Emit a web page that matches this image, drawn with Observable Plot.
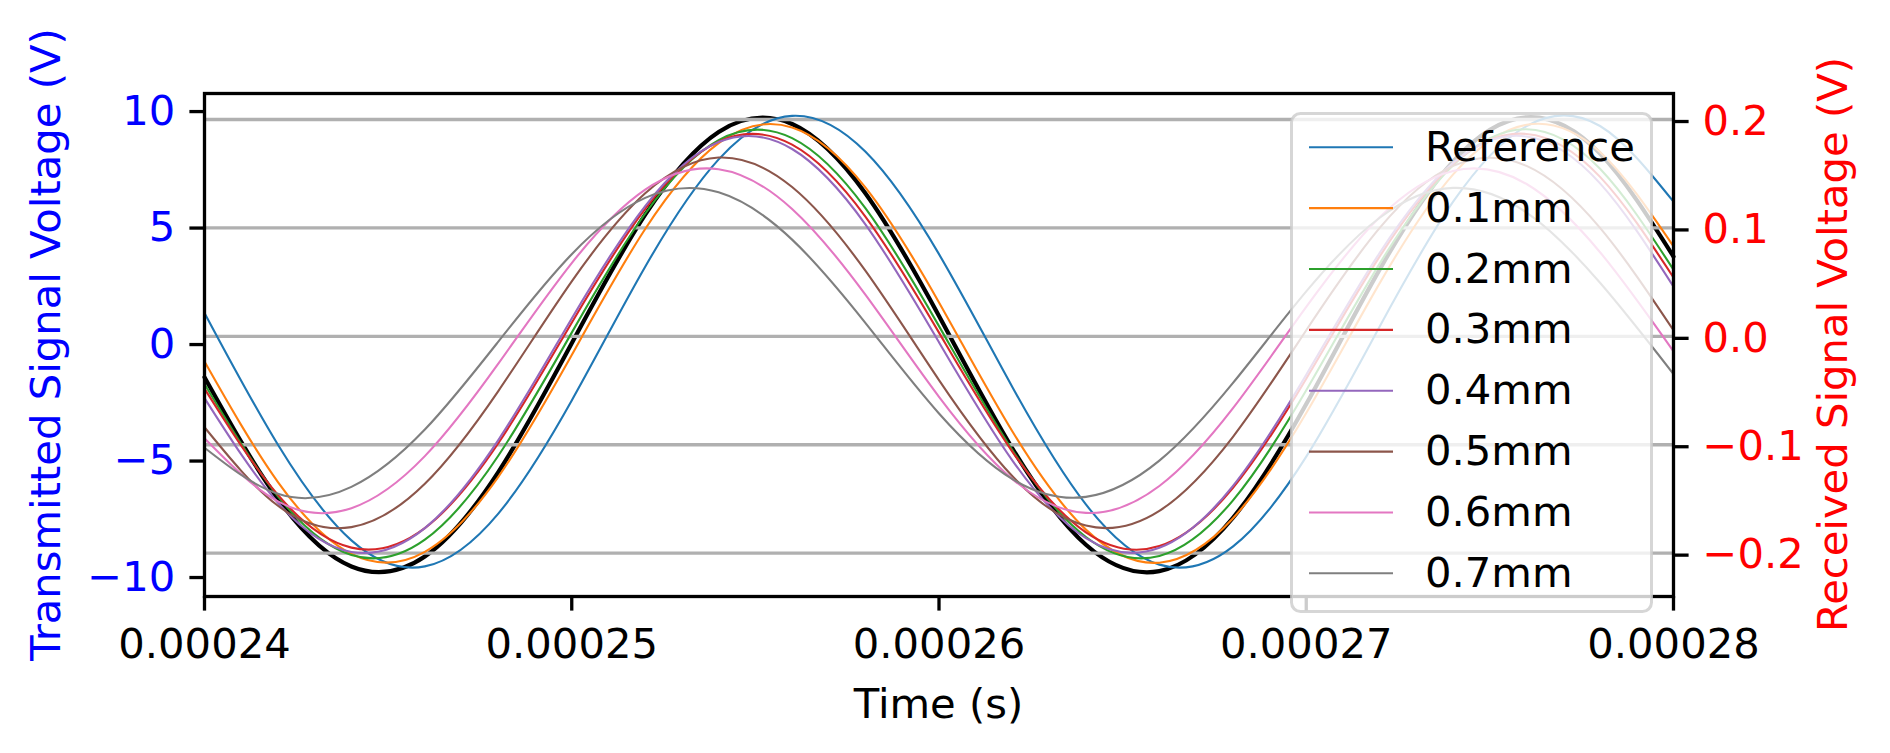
<!DOCTYPE html>
<html>
<head>
<meta charset="utf-8">
<script src="https://cdn.jsdelivr.net/npm/d3@7"></script>
<script src="https://cdn.jsdelivr.net/npm/@observablehq/plot@0.6"></script>
<style>
  html, body { margin: 0; padding: 0; background: #ffffff; }
  #chart { position: relative; width: 1890px; height: 753px; font-family: "DejaVu Sans", sans-serif; }
  #chart svg { position: absolute; left: 0; top: 0; max-width: none; }
</style>
</head>
<body>
<div id="chart"></div>
<script>
// ---------- data ----------
const time = [0.000240, 0.000242, 0.000244, 0.000246, 0.000248, 0.000250, 0.000252,
              0.000254, 0.000256, 0.000258, 0.000260, 0.000262, 0.000264, 0.000266,
              0.000268, 0.000270, 0.000272, 0.000274, 0.000276, 0.000278, 0.000280];

// transmitted signal (left axis, V)
const transmitted = [-1.49, -6.71, -9.61, -9.18, -5.56, -0.03, 5.49, 9.04, 9.38, 6.40, 1.14,
                     -4.55, -8.68, -9.81, -7.53, -2.64, 3.14, 7.78, 9.67, 8.11, 3.69];

// received signals (right axis, V)
const reference = [0.0216, -0.1000, -0.1882, -0.2122, -0.1635, -0.0592, 0.0642, 0.1632, 0.2034, 0.1702, 0.0758,
                   -0.0470, -0.1551, -0.2106, -0.1940, -0.1110, 0.0091, 0.1242, 0.1940, 0.1940, 0.1242];
const mm01 = [-0.0232, -0.1344, -0.2007, -0.1988, -0.1296, -0.0172, 0.0990, 0.1782, 0.1927, 0.1372, 0.0313,
              -0.0878, -0.1783, -0.2088, -0.1680, -0.0708, 0.0491, 0.1494, 0.1952, 0.1700, 0.0830];
const mm02 = [-0.0440, -0.1475, -0.2017, -0.1876, -0.1102, 0.0034, 0.1133, 0.1810, 0.1828, 0.1180, 0.0094,
              -0.1051, -0.1851, -0.2026, -0.1515, -0.0498, 0.0671, 0.1578, 0.1910, 0.1545, 0.0615];
const mm03 = [-0.0482, -0.1463, -0.1949, -0.1769, -0.0986, 0.0126, 0.1176, 0.1796, 0.1768, 0.1103, 0.0034,
              -0.1065, -0.1808, -0.1935, -0.1400, -0.0391, 0.0737, 0.1589, 0.1867, 0.1471, 0.0543];
const mm04 = [-0.0570, -0.1535, -0.1989, -0.1769, -0.0957, 0.0165, 0.1202, 0.1792, 0.1728, 0.1031, -0.0055,
              -0.1146, -0.1862, -0.1951, -0.1382, -0.0354, 0.0771, 0.1601, 0.1843, 0.1411, 0.0459];
const mm05 = [-0.0839, -0.1563, -0.1760, -0.1360, -0.0505, 0.0507, 0.1319, 0.1649, 0.1377, 0.0603, -0.0404,
              -0.1291, -0.1746, -0.1610, -0.0929, 0.0056, 0.1000, 0.1572, 0.1572, 0.1000, 0.0056];
const mm06 = [-0.0941, -0.1523, -0.1585, -0.1105, -0.0252, 0.0676, 0.1353, 0.1542, 0.1175, 0.0382, -0.0558,
              -0.1317, -0.1629, -0.1381, -0.0665, 0.0271, 0.1098, 0.1526, 0.1405, 0.0776, -0.0138];
const mm07 = [-0.1028, -0.1453, -0.1389, -0.0860, -0.0049, 0.0758, 0.1277, 0.1328, 0.0892, 0.0122, -0.0712,
              -0.1317, -0.1481, -0.1147, -0.0432, 0.0414, 0.1094, 0.1369, 0.1142, 0.0494, -0.0348];

const seriesLabels = ["Reference", "0.1mm", "0.2mm", "0.3mm", "0.4mm", "0.5mm", "0.6mm", "0.7mm"];
const seriesColors = ["#1f77b4", "#ff7f0e", "#2ca02c", "#d62728", "#9467bd", "#8c564b", "#e377c2", "#7f7f7f"];
const received = [reference, mm01, mm02, mm03, mm04, mm05, mm06, mm07];

const xTicks = [0.00024, 0.00025, 0.00026, 0.00027, 0.00028];
const leftTicks = [-10, -5, 0, 5, 10];
const rightTicks = [-0.2, -0.1, 0.0, 0.1, 0.2];

// ---------- layout ----------
const W = 1890, H = 753;
const ML = 204, MR = 217, MT = 93, MB = 157;
const FS = 41.7;
const FONT = '"DejaVu Sans", sans-serif';
const xDomain = [0.00024, 0.00028];
const leftDomain = [-10.9, 10.69];
const rightDomain = [-0.240, 0.224];

const common = {
  width: W, height: H,
  marginLeft: ML, marginRight: MR, marginTop: MT, marginBottom: MB,
  style: { fontFamily: FONT, fontSize: FS + "px", background: "transparent", overflow: "visible" }
};
const pts = (ys) => time.map((t, i) => [t, ys[i]]);

// bottom layer: transmitted signal, left axis, x axis
const base = Plot.plot({
  ...common,
  x: { domain: xDomain, axis: null, label: null },
  y: { domain: leftDomain, axis: null, label: null },
  marks: [
    Plot.line(pts(transmitted), { stroke: "#000000", strokeWidth: 4.2, curve: "natural" }),
    Plot.axisX({ ticks: xTicks, tickFormat: d3.format(".5f"), tickSize: 14.6, tickPadding: 16.8,
                 stroke: "#000000", strokeWidth: 3.3, fill: "#000000", fontSize: FS, label: null }),
    Plot.axisY({ anchor: "left", ticks: leftTicks, tickFormat: d3.format("d"), tickSize: 14.6, tickPadding: 14.6,
                 stroke: "#000000", strokeWidth: 3.3, fill: "#0000ff", fontSize: FS, label: null, dy: 2 })
  ]
});

// top layer: grid, received signals, frame, right axis
const topLayer = Plot.plot({
  ...common,
  x: { domain: xDomain, axis: null, label: null },
  y: { domain: rightDomain, axis: null, label: null },
  marks: [
    Plot.gridY({ ticks: rightTicks, stroke: "#b0b0b0", strokeOpacity: 1, strokeWidth: 3.3 }),
    ...received.map((ys, i) => Plot.line(pts(ys), { stroke: seriesColors[i], strokeWidth: 2.1, curve: "natural" })),
    Plot.frame({ stroke: "#000000", strokeWidth: 3.3 }),
    Plot.axisY({ anchor: "right", ticks: rightTicks, tickFormat: d3.format(".1f"), tickSize: 14.6, tickPadding: 14.5,
                 stroke: "#000000", strokeWidth: 3.3, fill: "#ff0000", fontSize: FS, label: null, dy: 2 })
  ]
});

const chart = document.getElementById("chart");
chart.appendChild(base);
chart.appendChild(topLayer);

// overlay: legend and axis titles
const ov = d3.select(chart).append("svg")
  .attr("width", W).attr("height", H)
  .attr("font-family", FONT)
  .style("position", "absolute").style("left", "0px").style("top", "0px");

const lg = { x: 1291.5, y: 113.5, w: 360, h: 498, row0: 147.3, rowStep: 60.86, hx1: 1309, hx2: 1393, tx: 1425 };
ov.append("rect")
  .attr("x", lg.x).attr("y", lg.y).attr("width", lg.w).attr("height", lg.h)
  .attr("rx", 9).attr("ry", 9)
  .attr("fill", "#ffffff").attr("fill-opacity", 0.8)
  .attr("stroke", "#cccccc").attr("stroke-opacity", 0.8).attr("stroke-width", 3);
seriesLabels.forEach((lab, i) => {
  const yy = lg.row0 + i * lg.rowStep;
  ov.append("line").attr("x1", lg.hx1).attr("x2", lg.hx2).attr("y1", yy).attr("y2", yy)
    .attr("stroke", seriesColors[i]).attr("stroke-width", 2.1);
  ov.append("text").attr("x", lg.tx).attr("y", yy + 13.5)
    .attr("font-size", FS).attr("fill", "#000000").text(lab);
});

ov.append("text")
  .attr("transform", "translate(59.5,344.5) rotate(-90)")
  .attr("text-anchor", "middle").attr("font-size", FS).attr("fill", "#0000ff")
  .text("Transmitted Signal Voltage (V)");
ov.append("text")
  .attr("transform", "translate(1847,344.5) rotate(-90)")
  .attr("text-anchor", "middle").attr("font-size", FS).attr("fill", "#ff0000")
  .text("Received Signal Voltage (V)");
ov.append("text")
  .attr("x", (ML + (W - MR)) / 2).attr("y", 718)
  .attr("text-anchor", "middle").attr("font-size", FS).attr("fill", "#000000")
  .text("Time (s)");
</script>
</body>
</html>
